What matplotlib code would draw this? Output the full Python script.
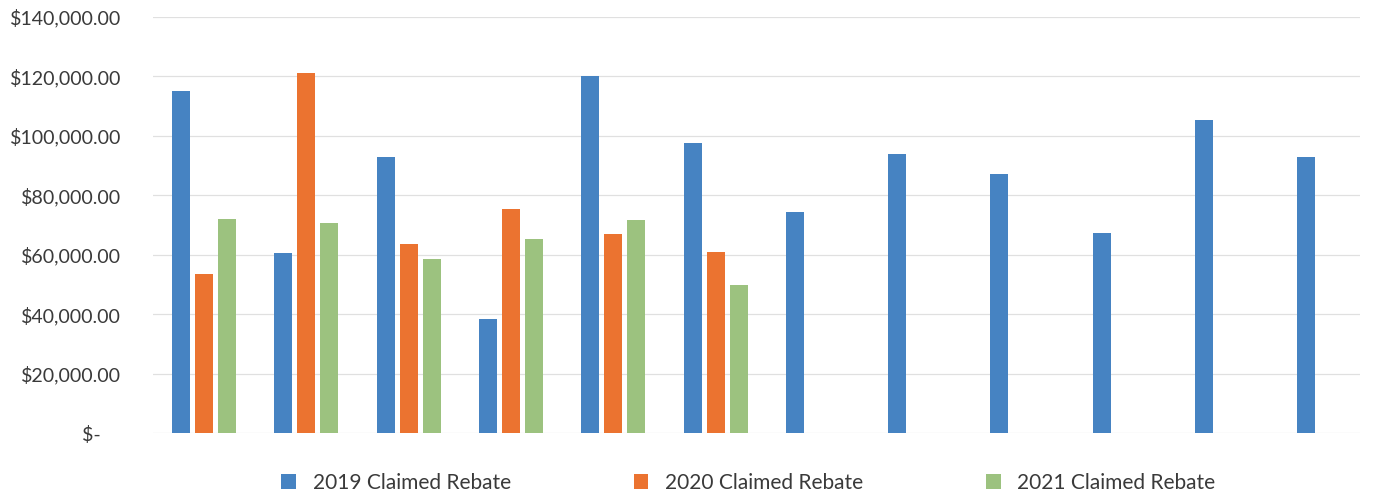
import matplotlib.pyplot as plt
import numpy as np

# Claimed rebate per group, by year (groups 7-12 only have 2019 figures)
groups = np.arange(12)
rebate_2019 = [115100, 60600, 92900, 38400, 120100, 97600,
               74400, 93800, 87300, 67200, 105300, 92800]
rebate_2020 = [53500, 121200, 63600, 75400, 67000, 60900]
rebate_2021 = [72000, 70700, 58600, 65300, 71700, 49800]
series_names = ['2019 Claimed Rebate', '2020 Claimed Rebate', '2021 Claimed Rebate']
yticks = [0, 20000, 40000, 60000, 80000, 100000, 120000, 140000]

colors = ['#4683c2', '#eb7330', '#9cc27f']
width = 0.176
offset = 0.225

fig = plt.figure(figsize=(13.77, 4.95), dpi=100)
ax = fig.add_axes([0.111, 0.125, 0.8767, 0.8407])
plt.rcParams['font.family'] = ['Lato', 'DejaVu Sans']

all_series = [rebate_2019, rebate_2020, rebate_2021]
for i, (vals, name, c) in enumerate(zip(all_series, series_names, colors)):
    x = groups[:len(vals)] + (i - 1) * offset
    ax.bar(x, vals, width=width, color=c, label=name, zorder=3)

ax.set_xlim(-0.5, 11.3)
ax.set_ylim(0, 140000)
ax.set_yticks(yticks)
ax.set_yticklabels(['$-    '] + ['${:,.2f}'.format(v) for v in yticks[1:]],
                   fontsize=14.1, color='#3a3a3a', family=['Lato', 'DejaVu Sans'])
ax.set_xticks([])
ax.tick_params(axis='y', length=0, pad=23)
ax.grid(axis='y', color='#e0e0e0', linewidth=0.9, zorder=0)
for s in ax.spines.values():
    s.set_visible(False)

fig.legend(loc='center', bbox_to_anchor=(0.5435, 12 / 495), ncol=3, frameon=False,
           handlelength=0.7, handleheight=0.7, handletextpad=0.8,
           columnspacing=5.9, labelcolor='#3a3a3a',
           prop={'family': ['Lato', 'DejaVu Sans'], 'size': 15})

plt.savefig('out.png', dpi=100)
